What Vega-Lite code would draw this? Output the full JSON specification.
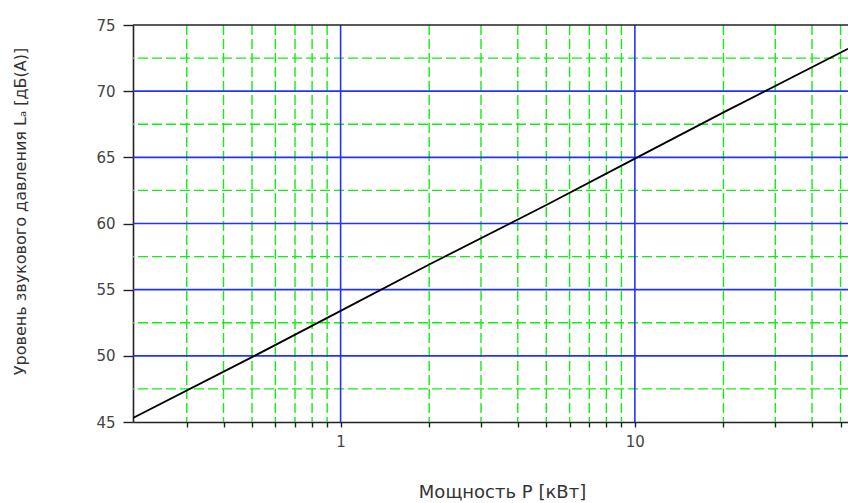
{
  "$schema": "https://vega.github.io/schema/vega-lite/v6.json",
  "width": 715,
  "height": 397,
  "autosize": {"type": "none"},
  "padding": {"left": 133, "top": 25, "right": 0, "bottom": 81},
  "background": "white",
  "config": {"view": {"stroke": null}, "font": "DejaVu Sans"},
  "datasets": {
    "vgreen": [{"P": 0.3}, {"P": 0.4}, {"P": 0.5}, {"P": 0.6}, {"P": 0.7}, {"P": 0.8}, {"P": 0.9}, {"P": 2}, {"P": 3}, {"P": 4}, {"P": 5}, {"P": 6}, {"P": 7}, {"P": 8}, {"P": 9}, {"P": 20}, {"P": 30}, {"P": 40}, {"P": 50}],
    "vblue": [{"P": 1}, {"P": 10}],
    "hgreen": [{"L": 47.5}, {"L": 52.5}, {"L": 57.5}, {"L": 62.5}, {"L": 67.5}, {"L": 72.5}],
    "hblue": [{"L": 50}, {"L": 55}, {"L": 60}, {"L": 65}, {"L": 70}],
    "top": [{"L": 75}],
    "curve": [{"P": 0.197, "L": 45.3}, {"P": 0.5, "L": 49.9}, {"P": 1, "L": 53.4}, {"P": 2, "L": 56.9}, {"P": 5, "L": 61.4}, {"P": 10, "L": 64.9}, {"P": 20, "L": 68.4}, {"P": 53, "L": 73.2}]
  },
  "layer": [
    {
      "data": {"name": "vgreen"},
      "mark": {"type": "rule", "color": "#11ee11", "strokeWidth": 1.4, "strokeDash": [10, 4]},
      "encoding": {"x": {"field": "P", "type": "quantitative"}}
    },
    {
      "data": {"name": "hgreen"},
      "mark": {"type": "rule", "color": "#11ee11", "strokeWidth": 1.4, "strokeDash": [10, 4]},
      "encoding": {"y": {"field": "L", "type": "quantitative"}}
    },
    {
      "data": {"name": "vblue"},
      "mark": {"type": "rule", "color": "#2233ff", "strokeWidth": 1.6},
      "encoding": {"x": {"field": "P", "type": "quantitative"}}
    },
    {
      "data": {"name": "hblue"},
      "mark": {"type": "rule", "color": "#2233ff", "strokeWidth": 1.6},
      "encoding": {"y": {"field": "L", "type": "quantitative"}}
    },
    {
      "data": {"name": "top"},
      "mark": {"type": "rule", "color": "#222222", "strokeWidth": 1.6},
      "encoding": {"y": {"field": "L", "type": "quantitative"}}
    },
    {
      "data": {"name": "curve"},
      "mark": {"type": "line", "color": "black", "strokeWidth": 1.8, "clip": true},
      "encoding": {
        "x": {
          "field": "P",
          "type": "quantitative",
          "scale": {"type": "log", "domain": [0.197, 53], "nice": false},
          "axis": {
            "title": "Мощность P [кВт]",
            "titleFontSize": 18,
            "titleFontWeight": "normal",
            "titleColor": "#333333",
            "titleX": 369,
            "titleY": 75,
            "titleAlign": "center",
            "titleBaseline": "alphabetic",
            "values": [0.3, 0.4, 0.5, 0.6, 0.7, 0.8, 0.9, 1, 2, 3, 4, 5, 6, 7, 8, 9, 10, 20, 30, 40, 50],
            "labelExpr": "datum.value == 1 ? '1' : (datum.value == 10 ? '10' : '')",
            "labelFontSize": 15,
            "labelColor": "#444444",
            "labelPadding": 7,
            "labelFlush": false,
            "labelOverlap": false,
            "tickSize": 5,
            "tickColor": "#222222",
            "tickWidth": 1.4,
            "domainColor": "#222222",
            "domainWidth": 1.6,
            "grid": false
          }
        },
        "y": {
          "field": "L",
          "type": "quantitative",
          "scale": {"domain": [45, 75], "nice": false, "zero": false},
          "axis": {
            "title": "Уровень звукового давления Lₐ [дБ(А)]",
            "titleFontSize": 16,
            "titleFontWeight": "normal",
            "titleColor": "#333333",
            "titleAngle": -90,
            "titleX": -113,
            "titleY": 186,
            "titleAlign": "center",
            "titleBaseline": "middle",
            "values": [45, 47.5, 50, 52.5, 55, 57.5, 60, 62.5, 65, 67.5, 70, 72.5, 75],
            "labelExpr": "datum.value % 5 == 0 ? datum.label : ''",
            "labelFontSize": 15,
            "labelColor": "#444444",
            "labelPadding": 8,
            "labelFlush": false,
            "labelOverlap": false,
            "tickSize": {"condition": {"test": "datum.value % 5 == 0", "value": 10}, "value": 4},
            "tickColor": "#222222",
            "tickWidth": 1.4,
            "domainColor": "#222222",
            "domainWidth": 1.6,
            "grid": false
          }
        }
      }
    }
  ]
}
